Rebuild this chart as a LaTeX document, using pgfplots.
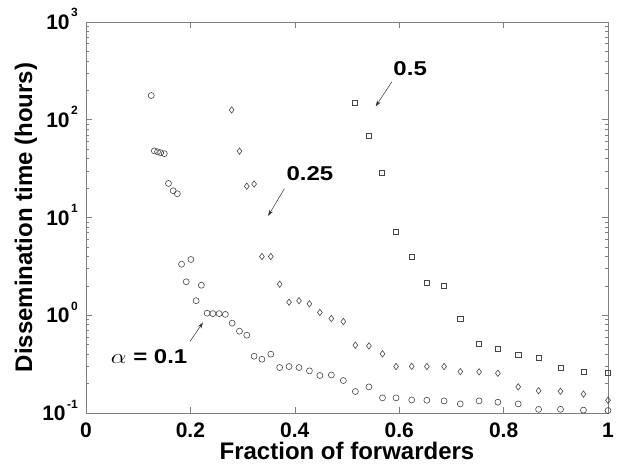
\documentclass[border=0pt]{standalone}
\usepackage{fontspec}
\setmainfont{Liberation Sans}
\usepackage{pgfplots}
\pgfplotsset{compat=1.18}
\usetikzlibrary{arrows.meta}
\definecolor{axgray}{RGB}{128,128,128}
\definecolor{mk}{RGB}{70,70,70}
\newcommand{\ex}[1]{\hspace{1.5pt}\raisebox{12.5pt}{\fontsize{12}{12}\selectfont\bfseries #1}}
\begin{document}
\begin{tikzpicture}
\begin{axis}[
  scale only axis,
  width=522pt, height=391pt,
  ymode=log,
  xmin=0, xmax=1, ymin=0.1, ymax=1000,
  axis line style={axgray, line width=0.6pt},
  every tick/.style={axgray, line width=0.6pt},
  tick align=inside,
  major tick length=6pt, minor tick length=3pt,
  xtick={0,0.2,0.4,0.6,0.8,1},
  xticklabels={0,0.2,0.4,0.6,0.8,1},
  ytick={0.1,1,10,100,1000},
  yticklabels={10\ex{-1},10\ex{0},10\ex{1},10\ex{2},10\ex{3}},
  minor ytick={0.2,0.3,0.4,0.5,0.6,0.7,0.8,0.9,2,3,4,5,6,7,8,9,20,30,40,50,60,70,80,90,200,300,400,500,600,700,800,900},
  xticklabel style={font=\fontsize{21}{25}\selectfont\bfseries, anchor=base, inner sep=0pt, yshift=-24pt},
  yticklabel style={font=\fontsize{21}{25}\selectfont\bfseries, anchor=base east, inner sep=0pt, xshift=-8pt, yshift=-7.5pt},
  xlabel={Fraction of forwarders},
  ylabel={Dissemination time (hours)},
  xlabel style={font=\fontsize{24}{28}\selectfont\bfseries, at={(axis description cs:0.5,-0.119)}, anchor=base, inner sep=0pt},
  ylabel style={font=\fontsize{24}{28}\selectfont\bfseries, at={(axis description cs:-0.1034,0.5)}, anchor=base, inner sep=0pt, rotate=0},
  clip=false,
]
\addplot[only marks, mark=o, mark size=3pt, mark options={mk, line width=0.6pt}] coordinates {
(0.125,177) (0.131,48) (0.137,47) (0.143,46) (0.150,45)
(0.158,22.3) (0.167,18.8) (0.175,17.5) (0.183,3.33) (0.192,2.20)
(0.201,3.72) (0.211,1.41) (0.221,2.03) (0.232,1.05) (0.243,1.04)
(0.255,1.04) (0.267,1.02) (0.280,0.83) (0.294,0.687) (0.308,0.625)
(0.322,0.381) (0.337,0.355) (0.354,0.40) (0.371,0.292) (0.389,0.299)
(0.408,0.292) (0.428,0.270) (0.448,0.242) (0.470,0.245) (0.493,0.215)
(0.516,0.166) (0.542,0.185) (0.568,0.143) (0.594,0.143) (0.624,0.136)
(0.653,0.135) (0.686,0.133) (0.717,0.124) (0.753,0.133) (0.789,0.129)
(0.828,0.124) (0.867,0.109) (0.909,0.109) (0.953,0.107) (1.0,0.106)
};
\addplot[only marks, mark=diamond, mark size=3.2pt, mark options={mk, line width=0.6pt}] coordinates {
(0.279,126) (0.294,47.8) (0.308,20.9) (0.322,22.0) (0.337,3.99)
(0.354,3.99) (0.371,2.08) (0.389,1.36) (0.408,1.41) (0.428,1.31)
(0.448,1.07) (0.470,0.925) (0.493,0.862) (0.516,0.494) (0.542,0.486)
(0.568,0.403) (0.594,0.299) (0.624,0.30) (0.653,0.299) (0.686,0.299)
(0.717,0.265) (0.753,0.264) (0.789,0.255) (0.828,0.185) (0.867,0.169)
(0.909,0.167) (0.953,0.156) (1.0,0.135)
};
\addplot[only marks, mark=square, mark size=2.6pt, mark options={mk, line width=0.6pt}] coordinates {
(0.515,149) (0.542,68.6) (0.567,28.7) (0.594,7.09) (0.624,3.96)
(0.653,2.13) (0.686,2.01) (0.717,0.918) (0.753,0.509) (0.789,0.453)
(0.828,0.391) (0.867,0.369) (0.909,0.290) (0.953,0.264) (1.0,0.257)
};
\node[font=\fontsize{20}{24}\selectfont\bfseries, xscale=1.2] at (axis cs:0.621,333) {0.5};
\draw[-{Stealth[length=6pt,width=4pt]}, black!80, line width=0.5pt] (axis cs:0.586,245) -- (axis cs:0.555,137);
\node[font=\fontsize{20}{24}\selectfont\bfseries, xscale=1.2] at (axis cs:0.429,28.0) {0.25};
\draw[-{Stealth[length=6pt,width=4pt]}, black!80, line width=0.5pt] (axis cs:0.380,19.7) -- (axis cs:0.349,10.4);
\node[font=\fontsize{20}{24}\selectfont\bfseries, xscale=1.2] at (axis cs:0.121,0.375) {$\alpha$ = 0.1};
\draw[-{Stealth[length=6pt,width=4pt]}, black!80, line width=0.5pt] (axis cs:0.199,0.538) -- (axis cs:0.224,0.841);
\end{axis}
\pgfresetboundingbox
\path (current axis.south west) ++(-86pt,-55pt) coordinate (bbA);
\path (current axis.north east) ++(25pt,22pt) coordinate (bbB);
\useasboundingbox (bbA) rectangle (bbB);
\end{tikzpicture}
\end{document}
